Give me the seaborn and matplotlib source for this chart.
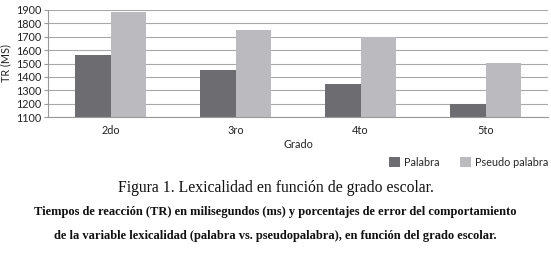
import pandas as pd
import matplotlib
matplotlib.use("Agg")
import matplotlib.pyplot as plt
import seaborn as sns

# data
grados = ["2do", "3ro", "4to", "5to"]
palabra = [1560, 1455, 1350, 1200]
pseudo_palabra = [1885, 1750, 1700, 1505]
series = ["Palabra", "Pseudo palabra"]
colores = ["#6c6c71", "#bbbbbf"]
y_ticks = [1100, 1200, 1300, 1400, 1500, 1600, 1700, 1800, 1900]

df = pd.DataFrame({
    "Grado": grados * 2,
    "TR": palabra + pseudo_palabra,
    "Serie": [series[0]] * len(grados) + [series[1]] * len(grados),
})

sns.set_theme(style="white")
plt.rcParams["font.family"] = ["Lato", "DejaVu Sans"]

fig = plt.figure(figsize=(5.51, 2.6), dpi=100)
ax = fig.add_axes([48 / 551, 1 - 117 / 260, 500 / 551, 107 / 260])

sns.barplot(data=df, x="Grado", y="TR", hue="Serie", palette=colores,
            width=0.57, ax=ax, saturation=1, edgecolor="none", legend=True)

ax.set_ylim(1100, 1900)
ax.set_xlim(-0.5, len(grados) - 0.5)
ax.set_yticks(y_ticks)
ax.set_yticklabels([str(t) for t in y_ticks], fontsize=7.8, color="#222222")
ax.yaxis.grid(True, color="#a8a8a8", linewidth=0.8)
ax.set_axisbelow(True)

# category ticks sit between groups
ax.set_xticks(range(len(grados)))
ax.set_xticklabels(grados, fontsize=7.8, color="#222222")
ax.tick_params(axis="x", which="major", length=0, pad=6)
ax.set_xticks([i - 0.5 for i in range(len(grados) + 1)], minor=True)
ax.tick_params(axis="x", which="minor", length=3, color="#999999", width=0.8)
ax.tick_params(axis="y", length=3, color="#999999", width=0.8, pad=2, left=True)

for side in ["top", "right"]:
    ax.spines[side].set_visible(False)
for side in ["left", "bottom"]:
    ax.spines[side].set_color("#999999")
    ax.spines[side].set_linewidth(0.8)

ax.set_ylabel("TR (MS)", fontsize=7.8, color="#222222", labelpad=3)
ax.set_xlabel("Grado", fontsize=7.8, color="#222222", labelpad=2)

handles, labels = ax.get_legend_handles_labels()
ax.legend(handles, labels, loc="center right", bbox_to_anchor=(548 / 551, 1 - 162 / 260),
          bbox_transform=fig.transFigure, ncol=2, frameon=False, fontsize=7.8,
          handlelength=1.0, handleheight=1.0, handletextpad=0.35, columnspacing=1.9,
          borderaxespad=0, borderpad=0)

serif = ["Liberation Serif", "DejaVu Serif"]
fig.text(0.5, 1 - 188 / 260, "Figura 1. Lexicalidad en función de grado escolar.",
         ha="center", va="center", fontsize=11.3, family=serif, color="#111111")
fig.text(0.5, 1 - 212 / 260,
         "Tiempos de reacción (TR) en milisegundos (ms) y porcentajes de error del comportamiento",
         ha="center", va="center", fontsize=9, family=serif, weight="bold", color="#111111")
fig.text(0.5, 1 - 236 / 260,
         "de la variable lexicalidad (palabra vs. pseudopalabra), en función del grado escolar.",
         ha="center", va="center", fontsize=9, family=serif, weight="bold", color="#111111")

fig.savefig("out.png", dpi=100)
